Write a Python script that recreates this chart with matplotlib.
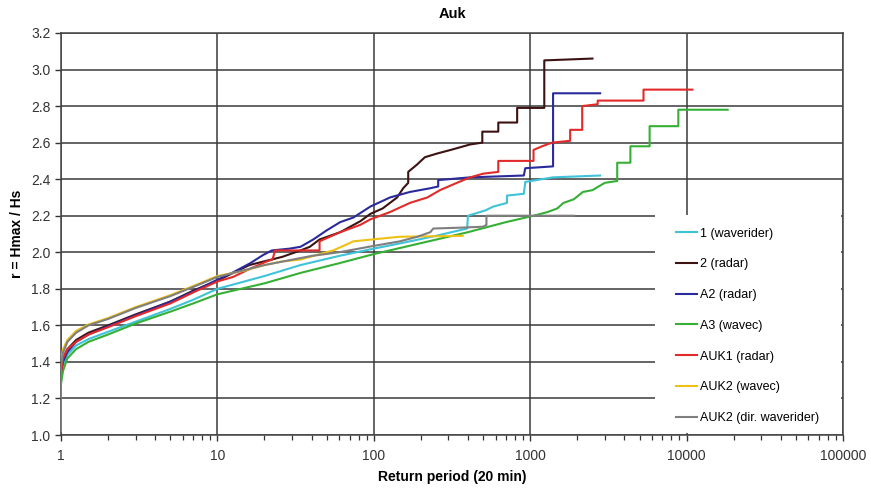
import matplotlib
matplotlib.use("Agg")
import matplotlib.pyplot as plt
from matplotlib.patches import Rectangle

plt.rcParams['font.family'] = ['Liberation Sans', 'DejaVu Sans']

# Return period (20 min) and r = Hmax/Hs for each record
x_1wr = [1.0, 1.03, 1.1, 1.25, 1.5, 2, 3, 5, 7, 10, 20, 34, 60, 100, 150, 250, 395,
         400, 457, 520, 580, 710, 710, 910, 930, 1400, 2800]
y_1wr = [1.32, 1.38, 1.44, 1.49, 1.525, 1.565, 1.62, 1.69, 1.74, 1.80, 1.87, 1.93, 1.98,
         2.02, 2.05, 2.09, 2.13, 2.20, 2.215, 2.23, 2.25, 2.27, 2.31, 2.32, 2.385, 2.41, 2.42]

x_2rd = [1.0, 1.03, 1.1, 1.25, 1.5, 2, 3, 5, 7, 10, 16, 26, 34, 39, 45, 61, 82, 95, 114,
         141, 154, 166, 166, 189, 212, 253, 310, 413, 494, 494, 625, 625, 825, 825, 1230,
         1230, 2500]
y_2rd = [1.35, 1.42, 1.47, 1.52, 1.56, 1.60, 1.66, 1.73, 1.79, 1.845, 1.93, 1.975, 2.01,
         2.03, 2.07, 2.11, 2.17, 2.21, 2.24, 2.30, 2.35, 2.38, 2.44, 2.48, 2.52, 2.54, 2.56,
         2.59, 2.60, 2.66, 2.66, 2.71, 2.71, 2.79, 2.79, 3.05, 3.06]

x_a2 = [1.0, 1.03, 1.1, 1.25, 1.5, 2, 3, 5, 7, 10, 12.6, 16.2, 19.6, 22.3, 29, 34, 41,
        50, 61, 74, 95, 127, 170, 228, 258, 258, 413, 910, 930, 1400, 1400, 2800]
y_a2 = [1.33, 1.40, 1.455, 1.51, 1.55, 1.595, 1.655, 1.73, 1.785, 1.85, 1.89, 1.94,
        1.985, 2.01, 2.02, 2.03, 2.07, 2.12, 2.165, 2.19, 2.25, 2.30, 2.33, 2.35, 2.36,
        2.395, 2.41, 2.42, 2.46, 2.47, 2.87, 2.87]

x_a3 = [1.0, 1.03, 1.1, 1.25, 1.5, 2, 3, 5, 7, 10, 20, 34, 60, 100, 200, 400, 700, 1050,
        1290, 1490, 1630, 1900, 2170, 2500, 3000, 3600, 3600, 4370, 4370, 5800, 5800,
        8850, 8850, 18300]
y_a3 = [1.28, 1.35, 1.42, 1.47, 1.51, 1.55, 1.61, 1.675, 1.72, 1.77, 1.83, 1.887, 1.94,
        1.99, 2.05, 2.11, 2.165, 2.20, 2.22, 2.24, 2.27, 2.29, 2.33, 2.34, 2.38, 2.39,
        2.49, 2.49, 2.58, 2.58, 2.69, 2.69, 2.78, 2.78]

x_auk1 = [1.0, 1.03, 1.1, 1.25, 1.5, 2, 3, 5, 7, 10, 12.6, 16.2, 20.7, 22.5, 23.4, 45,
          45, 61, 82, 95, 127, 170, 220, 265, 340, 413, 500, 625, 625, 1050, 1050, 1190,
          1380, 1800, 1800, 2150, 2150, 2700, 2700, 5300, 5300, 10900]
y_auk1 = [1.34, 1.42, 1.47, 1.51, 1.55, 1.59, 1.65, 1.72, 1.78, 1.84, 1.865, 1.91, 1.95,
          1.96, 2.01, 2.01, 2.06, 2.11, 2.15, 2.18, 2.22, 2.27, 2.30, 2.34, 2.38, 2.41,
          2.43, 2.44, 2.50, 2.50, 2.56, 2.58, 2.60, 2.61, 2.67, 2.67, 2.80, 2.81, 2.83,
          2.83, 2.89, 2.89]

x_auk2w = [1.0, 1.03, 1.1, 1.25, 1.5, 2, 3, 5, 7, 10, 15, 20, 26, 34, 45, 55, 70, 74,
           147, 370]
y_auk2w = [1.40, 1.47, 1.52, 1.57, 1.605, 1.64, 1.70, 1.765, 1.815, 1.87, 1.90, 1.93,
           1.95, 1.96, 1.99, 2.01, 2.05, 2.06, 2.085, 2.09]

x_auk2d = [1.0, 1.0, 1.03, 1.1, 1.25, 1.5, 2, 3, 5, 7, 10, 20, 40, 60, 100, 147, 190,
           230, 240, 370, 500, 525, 525, 1900]
y_auk2d = [1.02, 1.38, 1.45, 1.51, 1.56, 1.60, 1.635, 1.695, 1.76, 1.81, 1.865, 1.93,
           1.98, 2.0, 2.035, 2.06, 2.085, 2.11, 2.13, 2.135, 2.14, 2.15, 2.20, 2.20]

series = [
    (x_1wr, y_1wr, '1 (waverider)', '#3ec3d8'),
    (x_2rd, y_2rd, '2 (radar)', '#3d1212'),
    (x_a2, y_a2, 'A2 (radar)', '#2a2a9c'),
    (x_a3, y_a3, 'A3 (wavec)', '#35b035'),
    (x_auk1, y_auk1, 'AUK1 (radar)', '#e22a2a'),
    (x_auk2w, y_auk2w, 'AUK2 (wavec)', '#eec114'),
    (x_auk2d, y_auk2d, 'AUK2 (dir. waverider)', '#7f7f7f'),
]

fig = plt.figure(figsize=(8.71, 4.90), dpi=100)
ax = fig.add_axes([0.0700, 0.1122, 0.8979, 0.8205])

for xs, ys, lab, col in series:
    ax.plot(xs, ys, color=col, linewidth=1.5, label=lab, zorder=3)

ax.set_xscale('log')
ax.set_xlim(1, 100000)
ax.set_ylim(1.0, 3.2)
ax.set_yticks([1.0 + 0.2 * i for i in range(12)])
ax.set_yticklabels(['%.1f' % (1.0 + 0.2 * i) for i in range(12)])
ax.set_xticks([1, 10, 100, 1000, 10000, 100000])
ax.set_xticklabels(['1', '10', '100', '1000', '10000', '100000'])

ax.set_axisbelow(True)
ax.grid(True, which='major', color='#3a3a3a', linewidth=1.1)
ax.tick_params(which='both', direction='out', colors='#333333', labelsize=10)
ax.tick_params(axis='x', which='both', pad=6)
ax.tick_params(which='major', length=4, width=1)
ax.tick_params(which='minor', length=3.5, width=0.9)
for sp in ax.spines.values():
    sp.set_color('#444444')
    sp.set_linewidth(1.1)

# white panel behind the legend
ax.add_patch(Rectangle((0.760, 0.004), 0.238, 0.543, transform=ax.transAxes,
                       facecolor='white', edgecolor='none', zorder=1))

ax.legend(loc='upper left', bbox_to_anchor=(0.786, 0.516), frameon=False,
          borderpad=0, borderaxespad=0, handlelength=1.7, handletextpad=0.25,
          labelspacing=1.5, fontsize=9)

ax.set_title('Auk', fontsize=10.5, fontweight='bold', pad=11)
ax.set_xlabel('Return period (20 min)', fontsize=10, fontweight='bold', labelpad=5)
ax.set_ylabel('r = Hmax / Hs', fontsize=10, fontweight='bold', labelpad=5)

fig.savefig('out.png', dpi=100)
